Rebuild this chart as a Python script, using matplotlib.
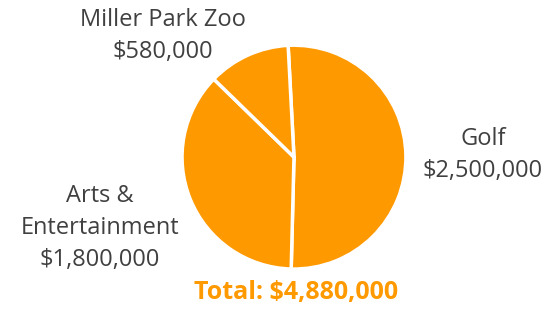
import matplotlib
matplotlib.use("Agg")
import matplotlib.pyplot as plt

categories = ["Golf", "Arts &\nEntertainment", "Miller Park Zoo"]
values = [2500000, 1800000, 580000]
value_labels = ["$2,500,000", "$1,800,000", "$580,000"]
total_label = "Total: $4,880,000"

orange = "#FF9900"
gray = "#404040"
plt.rcParams['font.family'] = ['Open Sans', 'DejaVu Sans']

fig = plt.figure(figsize=(5.5, 3.09), dpi=100)
ax = fig.add_axes([0.331, 0.129, 0.407, 0.725])
ax.pie(values, colors=[orange] * len(values), startangle=93, counterclock=False,
       wedgeprops=dict(edgecolor="white", linewidth=2.5))
ax.set_xlim(-1, 1)
ax.set_ylim(-1, 1)
ax.set_aspect("equal")

label_pos = [(483 / 550, 1 - 155 / 309), (100 / 550, 1 - 228 / 309), (163 / 550, 1 - 36 / 309)]
for (x, y), c, v in zip(label_pos, categories, value_labels):
    fig.text(x, y, f"{c}\n{v}", ha="center", va="center", fontsize=17,
             color=gray, linespacing=1.45)

fig.text(296 / 550, 1 - 293 / 309, total_label, ha="center", va="center",
         fontsize=18, fontweight="bold", color=orange)

fig.savefig("out.png", dpi=100)
